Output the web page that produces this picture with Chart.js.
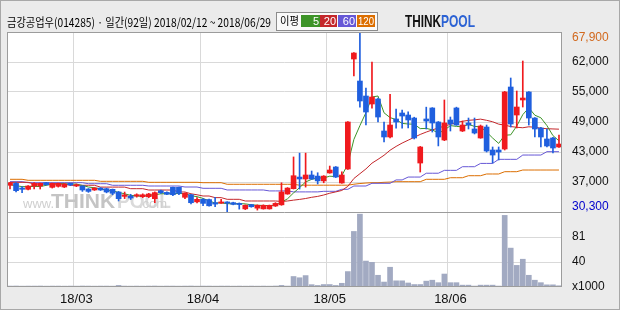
<!DOCTYPE html>
<html>
<head>
<meta charset="utf-8">
<script src="https://cdn.jsdelivr.net/npm/chart.js@4.4.1/dist/chart.umd.min.js"></script>
<style>
  html, body { margin: 0; padding: 0; background: #ebebeb; }
  canvas { display: block; }
</style>
</head>
<body>
<canvas id="c" width="620" height="310"></canvas>
<script>
// ---- 데이터 (2018/02/12 ~ 2018/06/29, 92 거래일) ----------------------
const days = [
  '02/12','02/13','02/14','02/19','02/20','02/21','02/22','02/23','02/26','02/27','02/28',
  '03/02','03/05','03/06','03/07','03/08','03/09','03/12','03/13','03/14','03/15','03/16',
  '03/19','03/20','03/21','03/22','03/23','03/26','03/27','03/28','03/29','03/30',
  '04/02','04/03','04/04','04/05','04/06','04/09','04/10','04/11','04/12','04/13',
  '04/16','04/17','04/18','04/19','04/20','04/23','04/24','04/25','04/26','04/27','04/30',
  '05/02','05/03','05/04','05/08','05/09','05/10','05/11','05/14','05/15','05/16','05/17',
  '05/18','05/21','05/23','05/24','05/25','05/28','05/29','05/30','05/31',
  '06/01','06/04','06/05','06/07','06/08','06/11','06/12','06/14','06/15','06/18','06/19',
  '06/20','06/21','06/22','06/25','06/26','06/27','06/28','06/29'
];

const openP = [
  35880,36280,35310,35040,35730,35730,36420,35450,35660,35520,36280,35730,35730,35100,34900,35300,
  35170,35040,34480,33570,33640,33640,33500,33500,33080,34750,34400,35450,35450,33370,33910,32420,
  32950,32900,32250,32150,32400,32250,32100,30950,31850,31100,30950,30950,31550,31800,34060,35170,
  37600,37200,38030,37800,36800,38450,39700,36360,39280,62260,57660,54530,52860,53900,47220,45970,
  49730,50980,50560,49930,40530,49730,52030,49100,45340,49520,52030,47220,48890,47640,45760,48050,
  43250,43250,43460,56410,50560,53700,55370,49930,47850,45550,45760,43880
];
const highP = [
  36500,36420,35590,35800,36420,36350,36500,36350,36350,36250,36350,36150,35800,35200,35400,35400,
  35300,35100,34600,34470,34000,34100,34100,34200,34500,34900,34500,35500,35500,34300,34000,33300,
  33100,33000,33350,32950,32450,32350,32200,31800,31900,31800,31800,31750,32250,36400,35400,41800,
  42600,42600,38860,38500,37900,39900,39800,38700,49200,63600,67900,56200,61630,54100,49100,54900,
  51820,51600,51200,50100,44000,52200,52100,49200,53700,50140,52200,49300,49930,49930,48470,48470,
  43880,43880,55500,58290,55570,61840,55450,50000,48000,47640,45900,46380
];
const lowP = [
  35100,34480,34330,34900,35100,35100,35900,35300,35500,35400,35800,35600,34600,34400,34800,34800,
  34300,33900,32600,33100,32900,33400,33300,33300,32250,34200,33900,33700,33900,33100,32000,32200,
  31600,31500,31400,32100,30300,31800,30900,30800,31300,30700,30900,30900,31450,31700,34000,35100,
  35100,35500,37100,36150,36400,38400,37500,36300,39200,58700,52200,48470,52000,49100,44920,45800,
  47800,47800,47850,45550,38650,47640,47000,44100,45200,47220,48400,47100,47640,46600,45700,42830,
  40530,41160,43250,48050,47850,52230,48470,45970,43880,43880,42620,43800
];
const closeP = [
  36420,34750,35040,35730,36280,36280,36000,36280,36280,36150,35940,36000,34900,34600,35300,34900,
  34480,34200,33080,33850,33220,33900,33900,34060,34350,34330,34000,33910,34200,34200,32240,32950,
  32100,31600,31950,32400,32150,31900,31850,31700,31400,31700,31700,31700,32100,34480,35300,37880,
  37200,38030,37200,36800,37800,39070,37600,38030,49100,63510,53490,51190,54320,50140,45970,48470,
  49100,50350,49520,45760,43880,49300,48890,45970,48890,48680,48470,48470,48470,46800,48260,43040,
  42200,42830,55370,48680,52230,54110,49930,47640,45970,44090,43670,44500
];

// 이동평균선
const ma5 = [
  36000,35800,35600,35600,35640,35620,35870,36110,36220,36200,36130,36130,35850,35520,35350,35140,
  34840,34700,34390,34100,33770,33650,33590,33790,33890,34110,34130,34130,34160,34130,33710,33500,
  33140,32620,32170,32200,32040,32000,32050,32000,31800,31710,31670,31640,31720,32340,33060,34290,
  35390,36580,37120,37420,37410,37780,37690,37860,40320,45460,48350,51060,54320,54530,51020,50020,
  49600,48810,48680,48640,47720,47760,47470,46760,47390,48350,48180,48100,48600,48180,48090,47010,
  45750,44630,46340,46420,48260,50640,52060,50520,49980,48350,46260,45170
];
const ma20 = [
  36500,36500,36500,36500,36150,36150,36150,36150,36150,36150,35880,35880,35880,35880,35880,35500,
  35500,35500,35500,35500,35170,35170,35170,34890,34890,34890,34890,34890,34480,34480,34100,33900,
  33640,33640,33300,33300,32950,32950,32950,32600,32600,32600,32600,32600,32600,32500,32600,32780,
  32930,33120,33370,33560,33850,34220,34500,34800,35650,37300,38300,39300,40500,41300,42150,43200,
  44000,44700,45300,45900,46500,47000,47450,47850,48250,48600,49000,49250,49450,49550,49700,49450,
  49150,48650,48450,48150,48000,47900,48100,48000,47800,47700,47650,47600
];
const ma60 = [
  36630,36630,36630,36420,36420,36420,36420,36420,36420,36420,36420,36420,36420,36210,36210,36210,
  36210,35880,35880,35880,35880,35880,35880,35730,35730,35730,35730,35730,35730,35520,35520,35520,
  35250,35250,35250,35250,34900,34900,34900,34900,34900,34900,34900,34700,34700,34700,34700,34500,
  34500,34500,34500,34500,34620,34620,34620,35040,35040,35730,35730,35730,36290,36290,36290,36290,
  37000,37000,37600,37600,37600,38400,38400,38400,39000,39000,39000,39760,39760,39760,40450,40450,
  40450,41300,41300,41300,41300,42200,42200,42200,42200,42900,42900,42900
];
const ma120 = [
  37130,37130,37130,36920,36920,36920,36920,36920,36920,36920,36920,36920,36920,36920,36920,36710,
  36710,36710,36710,36710,36710,36710,36710,36500,36500,36500,36500,36500,36500,36500,36500,36500,
  36420,36420,36420,36420,36090,36090,36090,36090,36090,36090,36090,36090,36090,36090,36090,36090,
  35900,35900,35900,35900,35900,35900,35900,35900,35900,36100,36250,36350,36420,36420,36500,36550,
  36630,36630,36630,36630,36630,37130,37130,37130,37130,37460,37460,37460,37880,37880,37880,38240,
  38240,38240,38720,38720,38720,39070,39070,39070,39070,39070,39070,39070
];

// 거래량 (x1000)
const volume = [
  1.5,1.6,1.4,1.5,1.5,1.6,1.4,1.5,1.5,1.4,1.5,1.4,1.6,1.5,1.4,1.5,1.5,1.4,2.6,1.5,1.4,1.5,1.4,
  1.5,1.6,1.4,1.5,1.5,1.4,1.5,1.6,1.4,1.5,1.5,1.4,1.5,1.5,1.4,1.5,1.4,1.5,1.4,1.5,1.4,1.6,
  2.6,1.5,17,15,18.5,3.8,2.5,4,4,2.5,6,25,90,118,42,40,19,8,32,10,10,6.5,4,4,9.5,
  11,7,21,7,7,3,3,1.5,3,3,3,1.5,116,63,35,45,19,11,7,3.5,3.5,2
];

const title = '금강공업우(014285) · 일간(92일) 2018/02/12 ~ 2018/06/29';
const priceMin = 30300, priceMax = 67900;
const priceTickLabels = ['30,300', '37,000', '43,000', '49,000', '55,000', '62,000', '67,900'];
const volMax = 121.5;
const volTickLabels = ['x1000', '40', '81'];
const maNames = ['5', '20', '60', '120'];

// ---- 스타일 -----------------------------------------------------------
const UP = '#f01a1e', DOWN = '#1f5fde', VOL = '#a2aac2';
const MA_COLORS = ['#3d9428', '#c4272b', '#6657d6', '#dc6e00'];
const GRID = '#d9d9d9', FRAME = '#9c9c9c';
const FONT = '"Liberation Sans", Arial, sans-serif';
const KFONT = '"Noto Sans CJK KR", sans-serif';

const isMonthStart = i => i > 0 && i < days.length && days[i].slice(0, 2) !== days[i - 1].slice(0, 2);
const candleColor = closeP.map((c, i) => c >= openP[i] ? UP : DOWN);

function maLine(data, color, order) {
    return {
        type: 'line', data, yAxisID: 'y', order,
        borderColor: color, borderWidth: 1, pointRadius: 0, tension: 0
    };
}

// ---- 플러그인 ---------------------------------------------------------
const backdrop = {
    id: 'backdrop',
    beforeDraw(chart) {
        const { ctx, chartArea: a } = chart;
        ctx.save();
        ctx.fillStyle = '#ebebeb';
        ctx.fillRect(0, 0, chart.width, chart.height);
        ctx.strokeStyle = '#a8a8a8';
        ctx.strokeRect(0.5, 0.5, chart.width - 1, chart.height - 1);
        ctx.fillStyle = '#ffffff';
        ctx.fillRect(a.left, a.top, a.right - a.left, a.bottom - a.top);
        ctx.restore();
    },
    beforeDatasetsDraw(chart) {
        // 워터마크
        const { ctx, chartArea: a } = chart;
        const y = chart.scales.y.bottom - 10;
        ctx.save();
        ctx.textBaseline = 'middle';
        ctx.fillStyle = '#cfcfcf';
        ctx.font = '13px ' + FONT;
        ctx.fillText('www.', a.left + 16, y + 2);
        ctx.font = 'bold 21px ' + FONT;
        ctx.fillStyle = '#c4c4c4';
        ctx.fillText('THINK', a.left + 44, y, 66);
        ctx.fillStyle = '#dadada';
        ctx.fillText('POOL', a.left + 110, y, 54);
        ctx.font = '13px ' + FONT;
        ctx.fillStyle = '#cfcfcf';
        ctx.fillText('.com', a.left + 132, y + 2);
        ctx.restore();
    },
    afterDatasetsDraw(chart) {
        const { ctx, chartArea: a } = chart;
        ctx.save();
        ctx.strokeStyle = FRAME;
        ctx.lineWidth = 1;
        ctx.strokeRect(a.left + 0.5, a.top + 0.5, a.right - a.left - 1, a.bottom - a.top - 1);
        const yb = Math.round(chart.scales.y.bottom) + 0.5;
        ctx.beginPath();
        ctx.moveTo(a.left, yb);
        ctx.lineTo(a.right, yb);
        ctx.stroke();
        ctx.restore();
    },
    afterDraw(chart) {
        const { ctx, chartArea: a } = chart;
        const ys = chart.scales.y;
        ctx.save();
        // 최고/최저 라벨
        ctx.font = '12px ' + FONT;
        ctx.textBaseline = 'middle';
        ctx.fillStyle = '#d2691e';
        ctx.fillText(priceTickLabels[6], a.right + 10, ys.top + 6);
        ctx.fillStyle = '#0000cc';
        ctx.fillText(priceTickLabels[0], a.right + 10, ys.bottom - 5);

        // 제목
        ctx.fillStyle = '#000';
        ctx.font = '12px ' + KFONT;
        ctx.fillText(title, 7, 22, 264);

        // 이평 범례
        ctx.fillStyle = '#fafafa';
        ctx.fillRect(276, 12, 101, 18);
        ctx.strokeStyle = '#8c8c8c';
        ctx.strokeRect(276.5, 12.5, 101, 18);
        ctx.fillStyle = '#000';
        ctx.font = '11px ' + KFONT;
        ctx.fillText('이평', 280, 21, 19);
        const boxes = [[301, 19], [320, 17], [338, 18], [357, 18]];
        ctx.font = '11px ' + FONT;
        ctx.textAlign = 'right';
        boxes.forEach(([x, w], k) => {
            ctx.fillStyle = MA_COLORS[k];
            ctx.fillRect(x, 15, w, 12);
            ctx.fillStyle = '#fff';
            ctx.fillText(maNames[k], x + w - 1, 21.5, w - 2);
        });

        // 로고
        ctx.textAlign = 'left';
        ctx.font = 'bold 17px ' + FONT;
        ctx.fillStyle = '#111';
        ctx.fillText('THINK', 405, 22, 36);
        ctx.fillStyle = '#2b62d4';
        ctx.fillText('POOL', 441, 22, 34);
        ctx.restore();
    }
};

// ---- 차트 -------------------------------------------------------------
Chart.defaults.font.family = FONT;
Chart.defaults.color = '#111';

new Chart(document.getElementById('c'), {
    type: 'bar',
    data: {
        labels: days,
        datasets: [
            {
                data: days.map((_, i) => [openP[i], closeP[i]]),
                yAxisID: 'y', order: 1, grouped: false,
                backgroundColor: candleColor, borderWidth: 0,
                barThickness: 5, minBarLength: 1
            },
            {
                data: days.map((_, i) => [lowP[i], highP[i]]),
                yAxisID: 'y', order: 2, grouped: false,
                backgroundColor: candleColor, borderWidth: 0,
                barThickness: 1
            },
            maLine(ma5, MA_COLORS[0], 6),
            maLine(ma20, MA_COLORS[1], 7),
            maLine(ma60, MA_COLORS[2], 8),
            maLine(ma120, MA_COLORS[3], 9),
            {
                data: volume,
                yAxisID: 'yv', order: 10, grouped: false,
                backgroundColor: VOL, borderWidth: 0,
                barThickness: 5
            }
        ]
    },
    options: {
        responsive: false,
        animation: false,
        devicePixelRatio: 1,
        layout: { padding: { top: 32, left: 7, right: 0, bottom: 0 } },
        plugins: { legend: { display: false }, tooltip: { enabled: false } },
        scales: {
            x: {
                type: 'category',
                offset: true,
                border: { display: false },
                grid: {
                    offset: true,
                    drawTicks: false,
                    color: ctx => isMonthStart(ctx.index) ? GRID : 'rgba(0,0,0,0)'
                },
                ticks: {
                    autoSkip: false,
                    maxRotation: 0,
                    padding: 5,
                    font: { size: 13 },
                    callback: (v, i) => isMonthStart(i) ? '18/' + days[i].slice(0, 2) : ''
                },
                afterFit: s => { s.height = 23; }
            },
            y: {
                type: 'linear',
                position: 'right',
                stack: 'panel',
                stackWeight: 180,
                min: priceMin,
                max: priceMax,
                border: { display: false },
                grid: {
                    drawTicks: false,
                    color: ctx => (ctx.index === 0 || ctx.index === 6) ? 'rgba(0,0,0,0)' : GRID
                },
                afterBuildTicks: s => {
                    s.ticks = priceTickLabels.map((_, k) => ({ value: priceMin + k * (priceMax - priceMin) / 6 }));
                },
                ticks: {
                    autoSkip: false,
                    padding: 10,
                    font: { size: 12 },
                    callback: (v, i) => (i === 0 || i === 6) ? '' : priceTickLabels[i]
                },
                afterFit: s => { s.width = 58; }
            },
            yv: {
                type: 'linear',
                position: 'right',
                stack: 'panel',
                stackWeight: 75,
                min: 0,
                max: volMax,
                border: { display: false },
                grid: {
                    drawTicks: false,
                    color: ctx => (ctx.index === 1 || ctx.index === 2) ? GRID : 'rgba(0,0,0,0)'
                },
                afterBuildTicks: s => {
                    s.ticks = volTickLabels.map((_, k) => ({ value: k * volMax / 3 }));
                },
                ticks: {
                    autoSkip: false,
                    padding: 10,
                    font: { size: 12 },
                    callback: (v, i) => volTickLabels[i]
                },
                afterFit: s => { s.width = 58; }
            }
        }
    },
    plugins: [backdrop]
});
</script>
</body>
</html>
